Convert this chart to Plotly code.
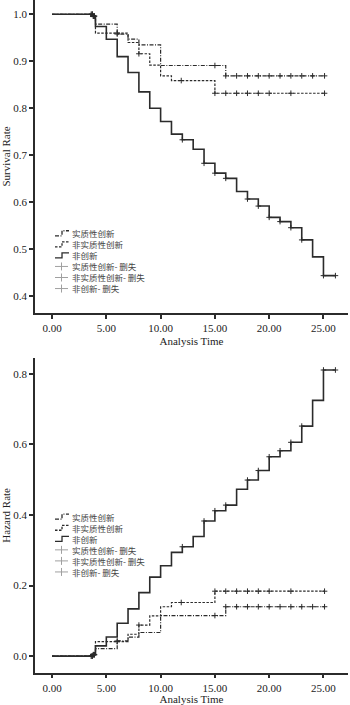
import plotly.graph_objects as go

# ---------------- data ----------------
# 非创新 (solid)
t_non = [0, 3.6, 4, 5, 6, 7, 8, 9, 10, 11, 12, 13, 14, 15, 16, 17, 18, 19, 20, 21, 22, 23, 24, 25, 26.1]
s_non = [1.0, 0.996, 0.974, 0.947, 0.910, 0.876, 0.835, 0.800, 0.772, 0.745, 0.733, 0.713, 0.683,
         0.662, 0.651, 0.623, 0.607, 0.592, 0.568, 0.559, 0.546, 0.520, 0.484, 0.444, 0.444]
h_non = [0.0, 0.004, 0.029, 0.054, 0.093, 0.134, 0.180, 0.224, 0.256, 0.294, 0.310, 0.339, 0.383,
         0.412, 0.428, 0.473, 0.499, 0.526, 0.565, 0.582, 0.606, 0.652, 0.725, 0.811, 0.811]
# 实质性创新 (upper survival)
t_sub = [0, 3.6, 4, 6, 7, 8, 10, 16, 25.1]
s_sub = [1.0, 0.996, 0.979, 0.958, 0.947, 0.935, 0.891, 0.869, 0.869]
h_sub = [0.0, 0.004, 0.021, 0.043, 0.054, 0.067, 0.115, 0.140, 0.140]
# 非实质性创新 (lower survival)
t_nsub = [0, 3.6, 4, 7, 8, 9, 10, 11, 15, 25.1]
s_nsub = [1.0, 0.996, 0.960, 0.940, 0.916, 0.892, 0.869, 0.859, 0.832, 0.832]
h_nsub = [0.0, 0.004, 0.041, 0.062, 0.088, 0.114, 0.140, 0.152, 0.184, 0.184]

# censored observations
c_non_t = [3.6, 3.7, 3.8, 3.9, 12, 14, 15, 16, 18, 19, 20, 21, 22, 23, 25, 26.1]
c_non_s = [1.0, 1.0, 0.996, 0.996, 0.733, 0.683, 0.662, 0.651, 0.607, 0.592, 0.568, 0.559, 0.546, 0.520, 0.444, 0.444]
c_non_h = [0.0, 0.0, 0.004, 0.004, 0.310, 0.383, 0.412, 0.428, 0.499, 0.526, 0.565, 0.582, 0.606, 0.652, 0.811, 0.811]
c_sub_t = [3.7, 3.8, 6, 15, 16, 17, 18, 19, 20, 21, 22, 23, 24, 25.1]
c_sub_s = [1.0, 0.996, 0.958, 0.891, 0.869, 0.869, 0.869, 0.869, 0.869, 0.869, 0.869, 0.869, 0.869, 0.869]
c_sub_h = [0.0, 0.004, 0.043, 0.115, 0.140, 0.140, 0.140, 0.140, 0.140, 0.140, 0.140, 0.140, 0.140, 0.140]
c_nsub_t = [3.7, 3.9, 6, 8, 11.9, 15, 16, 17, 18, 19, 20, 22, 25.1]
c_nsub_s = [1.0, 0.996, 0.960, 0.916, 0.859, 0.832, 0.832, 0.832, 0.832, 0.832, 0.832, 0.832, 0.832]
c_nsub_h = [0.0, 0.004, 0.041, 0.088, 0.152, 0.184, 0.184, 0.184, 0.184, 0.184, 0.184, 0.184, 0.184]

x_ticks = [0, 5, 10, 15, 20, 25]
surv_ticks = [0.4, 0.5, 0.6, 0.7, 0.8, 0.9, 1.0]
haz_ticks = [0.0, 0.2, 0.4, 0.6, 0.8]

legend_names = ["实质性创新", "非实质性创新", "非创新",
                "实质性创新- 删失", "非实质性创新- 删失", "非创新- 删失"]

# ---------------- styling / layout ----------------
W, H = 350, 705
L, R, T, B = 35, 2, 0, 32
PW, PH = W - L - R, H - T - B
def px(x):
    return (x - L) / PW
def py(y):
    return 1 - (y - T) / PH

INK = "#2b2b2b"
SERIF = "Liberation Serif, Times New Roman, serif"
CJK = "Noto Sans CJK SC"

series = [
    (legend_names[0], t_sub, s_sub, h_sub, dict(color=INK, width=1.2, dash="4px,1.5px,1px,1.5px")),
    (legend_names[1], t_nsub, s_nsub, h_nsub, dict(color=INK, width=1.2, dash="2.5px,1.5px")),
    (legend_names[2], t_non, s_non, h_non, dict(color=INK, width=1.6)),
]
censor = [
    (c_sub_t, c_sub_s, c_sub_h),
    (c_nsub_t, c_nsub_s, c_nsub_h),
    (c_non_t, c_non_s, c_non_h),
]

fig = go.Figure()
for (name, t, s, h, ln) in series:
    fig.add_trace(go.Scatter(x=t, y=s, mode="lines", line=ln, line_shape="hv",
                             showlegend=False, xaxis="x", yaxis="y", name=name))
    fig.add_trace(go.Scatter(x=t, y=h, mode="lines", line=ln, line_shape="hv",
                             showlegend=False, xaxis="x2", yaxis="y2", name=name))
mk = dict(symbol="cross-thin", size=4, line=dict(width=1, color=INK), color=INK)
for i, (ct, cs, ch) in enumerate(censor):
    fig.add_trace(go.Scatter(x=ct, y=cs, mode="markers", marker=mk, showlegend=False,
                             xaxis="x", yaxis="y", name=legend_names[3 + i]))
    fig.add_trace(go.Scatter(x=ct, y=ch, mode="markers", marker=mk, showlegend=False,
                             xaxis="x2", yaxis="y2", name=legend_names[3 + i]))

axis_common = dict(showgrid=False, zeroline=False, showline=True, linecolor=INK, linewidth=1.5,
                   ticks="outside", ticklen=4, tickwidth=1.5, tickcolor=INK,
                   tickfont=dict(family=SERIF, size=11, color="#222"), mirror=False)

xr = [-1.57, 27.26]
fig.update_layout(
    width=W, height=H, margin=dict(l=L, r=R, t=T, b=B),
    paper_bgcolor="white", plot_bgcolor="white",
    xaxis=dict(axis_common, domain=[0, 1], anchor="y", range=xr, tickvals=x_ticks,
               tickformat=".2f", title=dict(text="Analysis Time", standoff=4,
                                            font=dict(family=SERIF, size=11, color="#222"))),
    yaxis=dict(axis_common, domain=[py(313), py(0)], anchor="x", range=[0.3645, 1.0304],
               tickvals=surv_ticks, tickformat=".1f",
               title=dict(text="Survival Rate", standoff=6,
                          font=dict(family=SERIF, size=11, color="#222"))),
    xaxis2=dict(axis_common, domain=[0, 1], anchor="y2", range=xr, tickvals=x_ticks,
                tickformat=".2f", title=dict(text="Analysis Time", standoff=4,
                                             font=dict(family=SERIF, size=11, color="#222"))),
    yaxis2=dict(axis_common, domain=[py(672.7), py(358)], anchor="x2", range=[-0.047, 0.845],
                tickvals=haz_ticks, tickformat=".1f",
                title=dict(text="Hazard Rate", standoff=6,
                           font=dict(family=SERIF, size=11, color="#222"))),
    showlegend=False,
)

# ---------------- legends (one multi-line text block + small glyphs) ----------------
FS = 8.5
row_gap = FS * 1.3
legend_tops = [233.3, 516.7]
shapes = []
annos = []
for top in legend_tops:
    for i in range(len(legend_names)):
        yc = top + i * row_gap
        if i < 3:
            ln = series[i][4]
            path = "M {:.4f},{:.4f} L {:.4f},{:.4f} L {:.4f},{:.4f} L {:.4f},{:.4f}".format(
                px(55), py(yc + 2.5), px(62), py(yc + 2.5), px(62), py(yc - 2.5), px(69), py(yc - 2.5))
            shapes.append(dict(type="path", xref="paper", yref="paper", path=path,
                               line=dict(color=INK, width=1.3, dash=ln.get("dash", "solid"))))
        else:
            shapes.append(dict(type="line", xref="paper", yref="paper",
                               x0=px(55), x1=px(68), y0=py(yc), y1=py(yc),
                               line=dict(color="#a0a0a0", width=1)))
            shapes.append(dict(type="line", xref="paper", yref="paper",
                               x0=px(61.5), x1=px(61.5), y0=py(yc - 4), y1=py(yc + 4),
                               line=dict(color="#a0a0a0", width=1)))
    yc_mid = top + 2.5 * row_gap
    annos.append(dict(xref="paper", yref="paper", x=px(70), y=py(yc_mid), xanchor="left",
                      yanchor="middle", align="left", showarrow=False,
                      text="<br>".join(legend_names),
                      font=dict(family=CJK, size=FS, color="#444")))
fig.update_layout(shapes=shapes, annotations=annos)

fig.write_html("out.html")
